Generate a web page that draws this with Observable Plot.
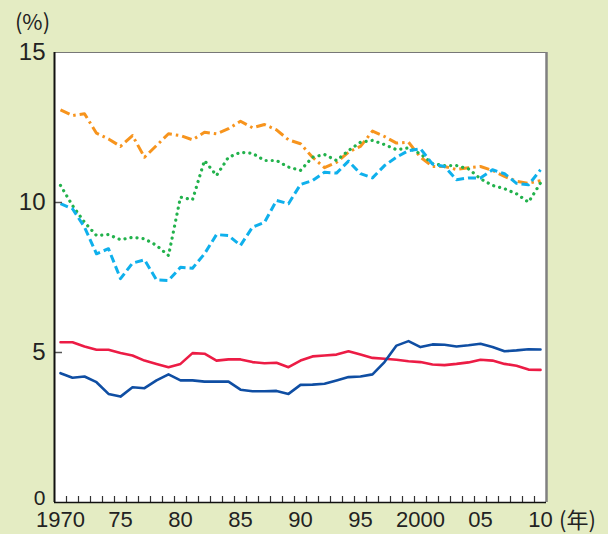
<!DOCTYPE html>
<html>
<head>
<meta charset="utf-8">
<script src="https://cdn.jsdelivr.net/npm/d3@7"></script>
<script src="https://cdn.jsdelivr.net/npm/@observablehq/plot@0.6"></script>
<style>
  html, body { margin: 0; padding: 0; background: #e4ecc3; }
  #chart { width: 608px; height: 534px; }
</style>
</head>
<body>
<div id="chart"></div>
<script>
const years = [1970,1971,1972,1973,1974,1975,1976,1977,1978,1979,
               1980,1981,1982,1983,1984,1985,1986,1987,1988,1989,
               1990,1991,1992,1993,1994,1995,1996,1997,1998,1999,
               2000,2001,2002,2003,2004,2005,2006,2007,2008,2009,2010];

const orangeSeries = [13.09,12.90,12.96,12.31,12.12,11.87,12.23,11.51,11.90,12.29,
                      12.23,12.09,12.34,12.29,12.46,12.71,12.49,12.60,12.42,12.09,
                      11.96,11.51,11.16,11.34,11.68,11.87,12.38,12.20,11.98,12.01,
                      11.51,11.20,11.20,11.10,11.16,11.20,11.07,10.87,10.71,10.64,10.73];

const greenSeries = [10.57,9.90,9.34,8.90,8.93,8.76,8.84,8.79,8.57,8.23,
                     10.18,10.09,11.40,10.90,11.51,11.67,11.64,11.40,11.40,11.18,
                     11.07,11.51,11.60,11.40,11.73,12.01,12.07,11.93,11.76,11.82,
                     11.62,11.30,11.23,11.23,11.12,10.79,10.57,10.46,10.29,10.01,10.65];

const cyanSeries = [9.96,9.79,9.18,8.29,8.46,7.46,7.98,8.09,7.42,7.40,
                    7.84,7.81,8.29,8.93,8.90,8.57,9.18,9.34,10.07,9.96,
                    10.60,10.73,11.01,10.98,11.38,10.96,10.82,11.23,11.51,11.73,
                    11.79,11.28,11.20,10.76,10.82,10.82,11.09,10.96,10.64,10.59,11.09];

const redSeries = [5.34,5.34,5.20,5.09,5.09,4.98,4.90,4.73,4.62,4.51,
                   4.62,4.98,4.96,4.73,4.77,4.77,4.68,4.64,4.66,4.51,
                   4.73,4.87,4.90,4.93,5.04,4.93,4.82,4.79,4.76,4.71,
                   4.68,4.60,4.58,4.62,4.67,4.76,4.73,4.62,4.56,4.43,4.42];

const blueSeries = [4.31,4.16,4.20,4.01,3.62,3.53,3.84,3.81,4.07,4.27,
                    4.07,4.07,4.03,4.03,4.03,3.76,3.71,3.71,3.72,3.62,
                    3.92,3.93,3.96,4.07,4.18,4.20,4.27,4.68,5.23,5.38,
                    5.18,5.27,5.26,5.20,5.24,5.29,5.18,5.04,5.07,5.11,5.10];

const xTickYears  = [1970,1975,1980,1985,1990,1995,2000,2005,2010];
const xTickLabels = ["1970","75","80","85","90","95","2000","05","10"];
const yTicks = [0,5,10,15];
const yUnit = "(%)";
const xUnit = "(年)";

const seriesDefs = [
  {values: orangeSeries, stroke: "#f7941d", dash: "10,4,2.5,4", width: 3, cap: "butt"},
  {values: greenSeries,  stroke: "#22b24c", dash: "0.1,6",      width: 3.2, cap: "round"},
  {values: cyanSeries,   stroke: "#0fb0ec", dash: "8,4",        width: 3, cap: "butt"},
  {values: redSeries,    stroke: "#ec1c45", dash: null,         width: 2.6, cap: "round"},
  {values: blueSeries,   stroke: "#0f4ea3", dash: null,         width: 2.6, cap: "round"}
];

const minorTicks = years.slice(0, -1).map(y => y + 0.5);
const labelOf = new Map(xTickYears.map((y, i) => [y, xTickLabels[i]]));

const lineMarks = seriesDefs.map(s => Plot.line(
  years.map((yr, i) => ({year: yr, value: s.values[i]})),
  {x: "year", y: "value", stroke: s.stroke, strokeWidth: s.width,
   strokeDasharray: s.dash, strokeLinecap: s.cap, strokeLinejoin: "round"}
));

const font = "'Liberation Sans', Arial, sans-serif";
const cjk = "'Noto Sans CJK JP', sans-serif";

const chart = Plot.plot({
  width: 608,
  height: 534,
  marginLeft: 54,
  marginRight: 62,
  marginTop: 52,
  marginBottom: 32,
  style: {background: "transparent", fontFamily: font, fontSize: "23px", color: "#222"},
  x: {domain: [years[0] - 0.5, years[years.length - 1] + 0.5]},
  y: {domain: [yTicks[0], yTicks[yTicks.length - 1]]},
  marks: [
    Plot.frame({fill: "white", stroke: "none"}),
    Plot.ruleY([yTicks[yTicks.length - 1]], {stroke: "#777", strokeWidth: 1.2}),
    Plot.ruleX([years[years.length - 1] + 0.5], {stroke: "#808080", strokeWidth: 2.5}),
    ...lineMarks,
    Plot.axisY({ticks: yTicks.slice(1, -1), tickSize: -8, tickFormat: () => "", stroke: "#555", strokeWidth: 1.5, label: null}),
    Plot.axisY({ticks: yTicks.slice(1), tickSize: 0, tickPadding: 9, fontSize: 24, label: null}),
    Plot.axisY({ticks: yTicks.slice(0, 1), tickSize: 0, tickPadding: 9, fontSize: 21, dy: -4, label: null}),
    Plot.axisX({ticks: minorTicks, tickSize: -6, tickFormat: () => "", stroke: "#333", strokeWidth: 1.2, label: null}),
    Plot.axisX({ticks: xTickYears, tickSize: 0, tickPadding: 9, tickFormat: d => labelOf.get(d), fontSize: 22, label: null}),
    Plot.ruleX([years[0] - 0.5], {stroke: "#111", strokeWidth: 2}),
    Plot.ruleY([yTicks[0]], {stroke: "#111", strokeWidth: 1.6}),
    Plot.text([xUnit], {frameAnchor: "bottom-right", textAnchor: "middle", lineAnchor: "middle", dx: 31, dy: 18, fontSize: 22, fontFamily: cjk, fill: "#222"}),
    Plot.text([yUnit], {frameAnchor: "top-left", textAnchor: "middle", lineAnchor: "middle", dx: -22, dy: -30, fontSize: 22, fontFamily: cjk, fill: "#222"})
  ]
});

document.getElementById("chart").appendChild(chart);
</script>
</body>
</html>
